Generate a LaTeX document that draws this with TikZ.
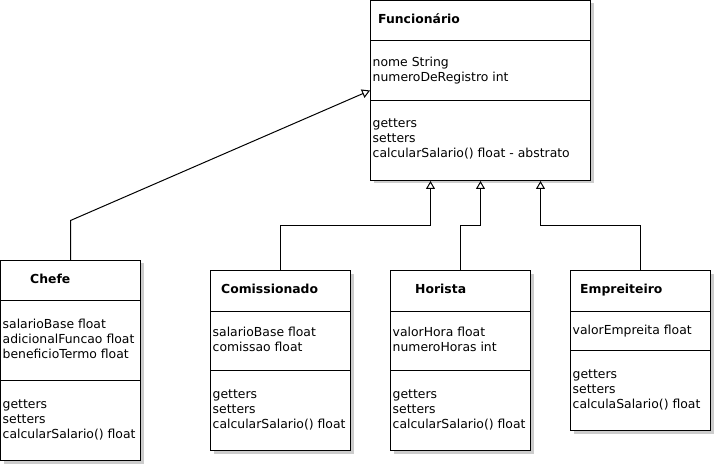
\documentclass[tikz,border=0pt]{standalone}
\usepackage{fontspec}
\setmainfont{DejaVu Sans}
\usetikzlibrary{arrows.meta,shadows}

\tikzset{
  classbox/.style={draw, line width=1pt, fill=white, anchor=north west, inner sep=0pt,
    drop shadow={shadow xshift=3pt, shadow yshift=-3pt, fill=gray!40, opacity=1}},
  classname/.style={anchor=base west, inner sep=0pt, font=\fontsize{12.4}{15}\selectfont\bfseries},
  % base anchor sits on the last line of the list
  member/.style={anchor=base west, inner sep=0pt, align=left, font=\fontsize{12.4}{15}\selectfont},
  compline/.style={line width=1pt},
  inherit/.style={draw, line width=1pt, -{Triangle[open, length=8pt, width=9pt]}},
}

\begin{document}
\begin{tikzpicture}[x=1pt, y=-1pt]
    \useasboundingbox (0,0) rectangle (715,465);

    % superclass
    \node[classbox, minimum width=220pt, minimum height=180pt] (func) at (370,0) {};
    \draw[compline] (370.5,40.5) -- (590.5,40.5);
    \draw[compline] (370.5,100.5) -- (590.5,100.5);
    \node[classname] (functitle) at (378,23.3) {Funcionário};
    \node[member] (funcattr) at (372.5,81.5) {nome String\\numeroDeRegistro int};
    \node[member] (funcmeth) at (372.5,158) {getters\\setters\\calcularSalario() float - abstrato};

    % subclasses
    \node[classbox, minimum width=140pt, minimum height=200pt] (chefe) at (0,260) {};
    \draw[compline] (0.5,300.5) -- (140.5,300.5);
    \draw[compline] (0.5,380.5) -- (140.5,380.5);
    \node[classname] (chefetitle) at (30,283.3) {Chefe};
    \node[member] (chefeattr) at (2.5,358) {salarioBase float\\adicionalFuncao float\\beneficioTermo float};
    \node[member] (chefemeth) at (2.5,438) {getters\\setters\\calcularSalario() float};

    \node[classbox, minimum width=140pt, minimum height=180pt] (comis) at (210,270) {};
    \draw[compline] (210.5,311.5) -- (350.5,311.5);
    \draw[compline] (210.5,370.5) -- (350.5,370.5);
    \node[classname] (comistitle) at (221,293.3) {Comissionado};
    \node[member] (comisattr) at (212.5,351) {salarioBase float\\comissao float};
    \node[member] (comismeth) at (212.5,428) {getters\\setters\\calcularSalario() float};

    \node[classbox, minimum width=140pt, minimum height=180pt] (hor) at (390,270) {};
    \draw[compline] (390.5,311.5) -- (530.5,311.5);
    \draw[compline] (390.5,370.5) -- (530.5,370.5);
    \node[classname] (hortitle) at (415,293.3) {Horista};
    \node[member] (horattr) at (392.5,351) {valorHora float\\numeroHoras int};
    \node[member] (hormeth) at (392.5,428) {getters\\setters\\calcularSalario() float};

    \node[classbox, minimum width=140pt, minimum height=160pt] (empr) at (570,270) {};
    \draw[compline] (570.5,311.5) -- (710.5,311.5);
    \draw[compline] (570.5,350.5) -- (710.5,350.5);
    \node[classname] (emprtitle) at (580,293.3) {Empreiteiro};
    \node[member] (emprattr) at (572.5,334) {valorEmpreita float};
    \node[member] (emprmeth) at (572.5,408) {getters\\setters\\calculaSalario() float};

    % generalisation
    \draw[inherit] (chefe.north) -- (70.5,220.5) -- (func.west);
    \draw[inherit] (comis.north) -- (280.5,225.5) -| ([xshift=-50pt]func.south);
    \draw[inherit] (hor.north) -- (460.5,225.5) -| (func.south);
    \draw[inherit] (empr.north) -- (640.5,225.5) -| ([xshift=60pt]func.south);
\end{tikzpicture}
\end{document}
